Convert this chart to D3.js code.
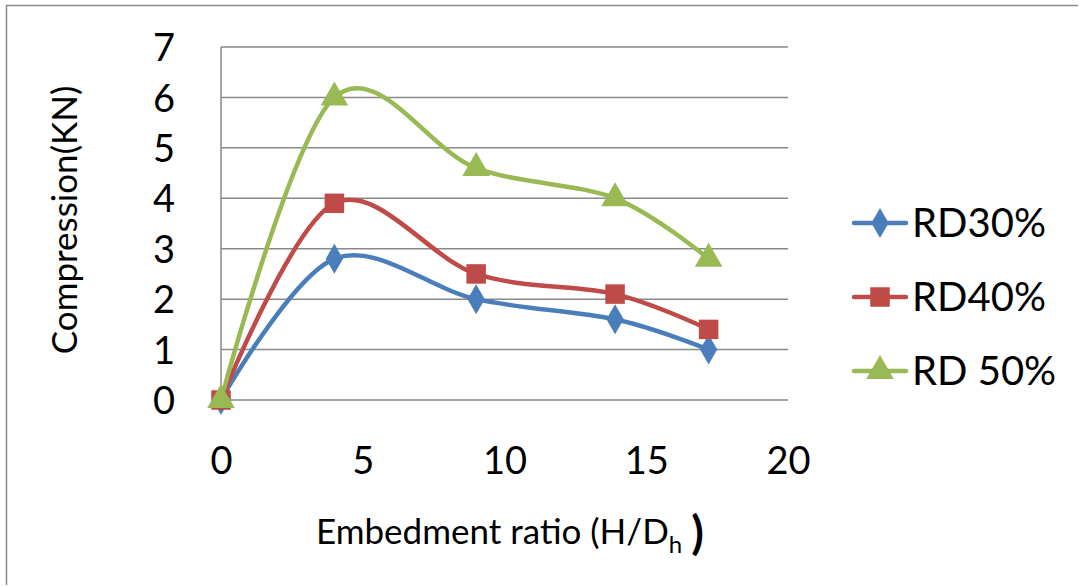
<!DOCTYPE html>
<html>
<head>
<meta charset="utf-8">
<script src="https://cdn.jsdelivr.net/npm/d3@7"></script>
<style>
  html, body { margin: 0; padding: 0; background: #fff; }
  svg { display: block; font-family: Lato, "Open Sans", sans-serif; }
</style>
</head>
<body>
<svg id="chart" width="1079" height="586"></svg>
<script>
// Embedment ratio (H/Dh) for each test
const ratios = [0, 4, 9, 13.9, 17.2];
// Compression capacity (kN) per relative density
const rd30 = [0, 2.8, 2.0, 1.6, 1.0];
const rd40 = [0, 3.9, 2.5, 2.1, 1.4];
const rd50 = [0, 6.0, 4.6, 4.0, 2.8];
const seriesNames = ["RD30%", "RD40%", "RD 50%"];
const xTicks = [0, 5, 10, 15, 20];
const yTicks = [0, 1, 2, 3, 4, 5, 6, 7];

const colors = ["#4A7EBB", "#BE4B48", "#98B954"];
const markers = [d3.symbolDiamond, d3.symbolSquare, d3.symbolTriangle];
const markerSizes = [260, 380, 330];

const series = [rd30, rd40, rd50].map((vals, i) => ({
  name: seriesNames[i],
  color: colors[i],
  symbol: markers[i],
  size: markerSizes[i],
  points: vals.map((v, j) => ({ x: ratios[j], y: v }))
}));

const svg = d3.select("#chart");

// outer frame (top and left edges)
svg.append("path")
  .attr("d", "M6.5,585 L6.5,5.5 L1078,5.5")
  .attr("fill", "none").attr("stroke", "#8a8a8a").attr("stroke-width", 1.5);

const x = d3.scaleLinear().domain([0, 20]).range([221, 788]);
const y = d3.scaleLinear().domain([0, 7]).range([400, 47]);

// horizontal gridlines
svg.append("g").selectAll("line").data(yTicks).join("line")
  .attr("x1", x(0)).attr("x2", x(20))
  .attr("y1", d => y(d)).attr("y2", d => y(d))
  .attr("stroke", "#898989").attr("stroke-width", 1.5);

// vertical axis line
svg.append("line")
  .attr("x1", x(0)).attr("x2", x(0))
  .attr("y1", y(7)).attr("y2", y(0))
  .attr("stroke", "#898989").attr("stroke-width", 1.5);

// y tick labels
const yAxis = d3.axisLeft(y).tickValues(yTicks).tickSize(0).tickPadding(0).tickFormat(d3.format("d"));
const gy = svg.append("g").attr("transform", "translate(175,0)").call(yAxis);
gy.select(".domain").remove();
gy.selectAll("text").attr("font-size", 38).attr("font-family", "Lato, sans-serif").attr("fill", "#000").attr("dy", "0.36em");

// x tick labels
const xAxis = d3.axisBottom(x).tickValues(xTicks).tickSize(0).tickPadding(0).tickFormat(d3.format("d"));
const gx = svg.append("g").attr("transform", "translate(0,447)").call(xAxis);
gx.select(".domain").remove();
gx.selectAll("text").attr("font-size", 38).attr("font-family", "Lato, sans-serif").attr("fill", "#000").attr("dy", "0.71em");

// smoothed series lines
const line = d3.line().x(d => x(d.x)).y(d => y(d.y)).curve(d3.curveCatmullRom.alpha(0));
svg.append("g").selectAll("path").data(series).join("path")
  .attr("d", d => line(d.points))
  .attr("fill", "none")
  .attr("stroke", d => d.color)
  .attr("stroke-width", 4.5)
  .attr("stroke-linejoin", "round")
  .attr("stroke-linecap", "round");

// markers
series.forEach(s => {
  svg.append("g").selectAll("path").data(s.points).join("path")
    .attr("transform", d => `translate(${x(d.x)},${y(d.y)})`)
    .attr("d", d3.symbol().type(s.symbol).size(s.size))
    .attr("fill", s.color);
});

// legend
const legendY = [223, 297, 371];
const lg = svg.append("g");
series.forEach((s, i) => {
  const g = lg.append("g").attr("transform", `translate(0,${legendY[i]})`);
  g.append("line").attr("x1", 854).attr("x2", 906).attr("y1", 0).attr("y2", 0)
    .attr("stroke", s.color).attr("stroke-width", 4.5).attr("stroke-linecap", "round");
  g.append("path").attr("transform", "translate(880,0)")
    .attr("d", d3.symbol().type(s.symbol).size(s.size)).attr("fill", s.color);
  g.append("text").attr("x", 912).attr("y", 0).attr("dy", "0.36em")
    .attr("font-size", 40).attr("fill", "#000").text(s.name);
});

// y axis title
svg.append("text")
  .attr("transform", "translate(77,220) rotate(-90)")
  .attr("text-anchor", "middle")
  .attr("font-size", 35).attr("fill", "#000")
  .text("Compression(KN)");

// x axis title with subscript
const xt = svg.append("text")
  .attr("x", 316).attr("y", 544)
  .attr("font-size", 35).attr("fill", "#000");
xt.append("tspan").text("Embedment ratio (H/D");
xt.append("tspan").attr("font-size", 24).attr("dy", 9).text("h");
xt.append("tspan").attr("dy", -4).attr("font-size", 46).attr("font-weight", "bold").attr("dx", 9).text(")");
</script>
</body>
</html>
